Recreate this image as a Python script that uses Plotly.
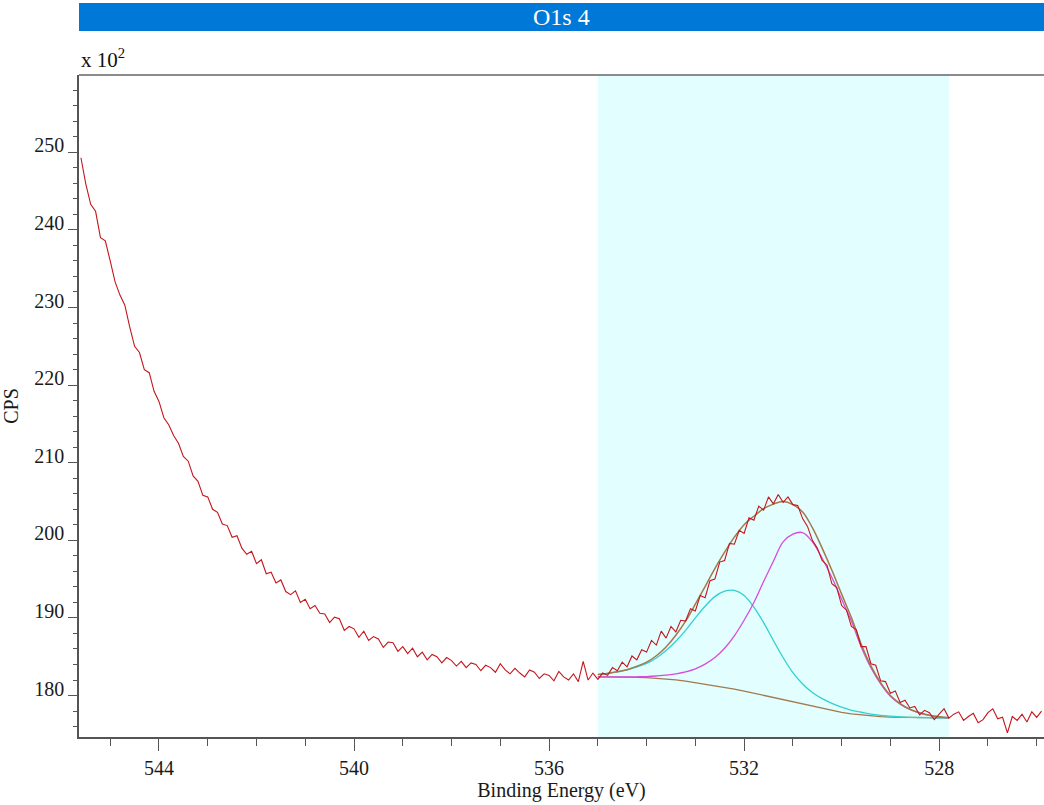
import numpy as np
import plotly.graph_objects as go

# ---------------- data (CPS in units of 10^2) ----------------
raw_start_ev = 545.6
raw_step_ev = 0.1
raw_cps = [
    249.3, 245.9, 243.3, 242.4, 239.0, 238.6, 236.0, 233.3, 231.6, 230.3,
    227.5, 225.0, 224.2, 222.0, 221.6, 219.2, 217.9, 215.8, 214.9, 213.5,
    212.5, 210.8, 210.2, 208.3, 207.6, 205.8, 205.6, 204.0, 203.6, 202.1,
    201.9, 200.4, 200.6, 199.0, 198.2, 198.6, 197.0, 197.5, 195.7, 195.9,
    194.5, 194.9, 193.4, 193.0, 193.5, 192.0, 192.4, 191.2, 191.6, 190.6,
    190.5, 189.4, 190.1, 189.9, 188.4, 188.9, 188.6, 187.5, 188.3, 187.1,
    187.6, 187.3, 186.2, 186.9, 186.8, 185.7, 186.3, 185.4, 186.1, 185.0,
    185.6, 184.6, 185.3, 185.0, 184.2, 184.9, 184.5, 183.8, 184.4, 183.6,
    184.2, 184.0, 183.2, 183.9, 183.6, 183.0, 184.1, 183.3, 182.8, 183.5,
    182.9, 182.4, 183.3, 183.0, 182.2, 182.8, 182.6, 181.9, 183.1, 182.4,
    182.0, 182.8, 181.8, 184.4, 182.0, 182.9, 182.1, 182.9, 182.6, 183.6,
    183.2, 184.3, 183.7, 185.1, 184.6, 185.9, 185.6, 187.1, 186.5, 188.3,
    187.4, 188.9, 188.2, 189.7, 189.6, 191.2, 190.9, 192.9, 192.6, 194.8,
    195.0, 197.2, 197.4, 199.6, 199.5, 201.3, 200.9, 202.9, 202.6, 204.4,
    203.9, 205.6, 204.7, 205.9, 204.9, 205.6, 204.6, 204.5, 202.8, 201.8,
    200.0, 199.0, 197.4, 196.8, 194.4, 193.9, 191.6, 191.0, 188.9, 188.5,
    186.3, 186.3, 184.1, 183.9, 181.9, 181.8, 180.3, 180.6, 179.1, 179.4,
    178.4, 178.6, 177.5, 178.1, 177.8, 176.9, 177.6, 178.3, 177.1, 177.6,
    177.9, 176.8, 177.3, 177.7, 176.5, 176.9, 177.8, 178.3, 177.0, 177.2,
    175.2, 177.3, 176.8, 177.6, 176.6, 177.9, 177.2, 178.0,
]
raw_be = np.round(raw_start_ev - raw_step_ev * np.arange(len(raw_cps)), 2)

fit_be = [535.0, 534.8, 534.6, 534.4, 534.2, 534.0, 533.8, 533.6, 533.4, 533.2,
          533.0, 532.8, 532.6, 532.4, 532.2, 532.0, 531.8, 531.6, 531.4, 531.2,
          531.0, 530.8, 530.6, 530.4, 530.2, 530.0, 529.8, 529.6, 529.4, 529.2,
          529.0, 528.8, 528.6, 528.4, 528.2, 528.0, 527.8]
background = [182.40, 182.40, 182.39, 182.37, 182.34, 182.30, 182.24, 182.15, 182.03, 181.87,
              181.68, 181.50, 181.30, 181.08, 180.84, 180.58, 180.30, 180.02, 179.73, 179.43,
              179.14, 178.85, 178.57, 178.30, 178.05, 177.83, 177.65, 177.50, 177.38, 177.29,
              177.23, 177.19, 177.16, 177.14, 177.13, 177.12, 177.12]
peak_cyan = [182.70, 182.85, 183.05, 183.30, 183.70, 184.15, 184.85, 185.80, 187.00, 188.40,
             190.00, 191.50, 192.75, 193.45, 193.55, 192.90, 191.40, 189.40, 187.10, 184.90,
             182.95, 181.50, 180.40, 179.60, 179.00, 178.50, 178.10, 177.85, 177.60, 177.45,
             177.35, 177.25, 177.20, 177.17, 177.15, 177.13, 177.12]
peak_magenta = [182.40, 182.40, 182.40, 182.40, 182.42, 182.45, 182.52, 182.62, 182.80, 183.05,
                183.45, 184.05, 184.90, 186.10, 187.70, 189.70, 192.00, 194.70, 197.30, 199.80,
                200.80, 201.00, 199.80, 197.70, 195.20, 192.40, 189.60, 186.30, 183.60, 181.50,
                179.90, 178.90, 178.20, 177.75, 177.45, 177.25, 177.15]
envelope = [182.70, 182.85, 183.06, 183.33, 183.78, 184.30, 185.13, 186.27, 187.77, 189.58,
            191.77, 194.05, 196.35, 198.47, 200.41, 202.02, 203.10, 204.08, 204.67, 205.00,
            204.61, 203.65, 201.63, 199.00, 196.15, 193.07, 190.05, 186.65, 183.82, 181.66,
            180.02, 178.96, 178.24, 177.78, 177.47, 177.26, 177.15]

region_be = [535.0, 527.8]
title_text = "O1s 4"
x_title = "Binding Energy (eV)"
y_title = "CPS"

# ---------------- styling ----------------
FONT = "Liberation Serif, Times New Roman, serif"
C_RAW = "#C4161C"
C_ENV = "#A07A4E"
C_CYAN = "#33CFD3"
C_MAG = "#D94CD9"

fig = go.Figure()
fig.add_trace(go.Scatter(x=fit_be, y=background, mode="lines",
                         line=dict(color=C_ENV, width=1.3), hoverinfo="skip"))
fig.add_trace(go.Scatter(x=fit_be, y=peak_cyan, mode="lines",
                         line=dict(color=C_CYAN, width=1.3, shape="spline"), hoverinfo="skip"))
fig.add_trace(go.Scatter(x=fit_be, y=peak_magenta, mode="lines",
                         line=dict(color=C_MAG, width=1.3, shape="spline"), hoverinfo="skip"))
fig.add_trace(go.Scatter(x=fit_be, y=envelope, mode="lines",
                         line=dict(color=C_ENV, width=1.5, shape="spline"), hoverinfo="skip"))
fig.add_trace(go.Scatter(x=raw_be, y=raw_cps, mode="lines",
                         line=dict(color=C_RAW, width=1.1), hoverinfo="skip"))

# analysis region
fig.add_shape(type="rect", xref="x", yref="paper", x0=region_be[0], x1=region_be[1],
              y0=0, y1=1, fillcolor="#E2FEFE", line=dict(width=0), layer="below")

# geometry (px) -> paper for the title bar
W, H = 1044, 805
ML, MR, MT, MB = 79, 0, 75, 68
ph = H - MT - MB
def py(px_y):
    return (H - MB - px_y) / ph

fig.add_shape(type="rect", xref="paper", yref="paper", x0=0, x1=1,
              y0=py(31), y1=py(3), fillcolor="#0078D7", line=dict(width=0))
fig.add_annotation(xref="paper", yref="paper", x=0.5, y=py(17), text=title_text,
                   showarrow=False, xanchor="center", yanchor="middle",
                   font=dict(family=FONT, size=24, color="white"))
fig.add_annotation(xref="paper", yref="paper", x=0, y=py(74), text="x 10<sup>2</sup>",
                   showarrow=False, xanchor="left", yanchor="bottom",
                   font=dict(family=FONT, size=21, color="#111"))

axis_common = dict(showgrid=False, zeroline=False, linecolor="#555", linewidth=1.5,
                   ticks="outside", tickcolor="#555", tickwidth=1.2,
                   tickfont=dict(family=FONT, size=20, color="#1a1a1a"),
                   title_font=dict(family=FONT, size=20, color="#1a1a1a"))

fig.update_xaxes(range=[545.64, 525.85], tickmode="linear", tick0=528, dtick=4,
                 ticklen=12, showline=True, mirror=False,
                 minor=dict(tick0=528, dtick=1, ticklen=7, tickcolor="#555", ticks="outside"),
                 title_text=x_title, title_standoff=4, **axis_common)
fig.update_yaxes(range=[174.66, 259.96], tickmode="linear", tick0=180, dtick=10,
                 ticklen=9, showline=True, ticklabelshift=-7,
                 minor=dict(tick0=180, dtick=2, ticklen=4, tickcolor="#555", ticks="outside"),
                 title_text=y_title, title_standoff=10, **axis_common)

# top border
fig.add_shape(type="line", xref="paper", yref="paper", x0=0, x1=1, y0=1, y1=1,
              line=dict(color="#666", width=1.5))

fig.update_layout(width=W, height=H, margin=dict(l=ML, r=MR, t=MT, b=MB),
                  paper_bgcolor="white", plot_bgcolor="white", showlegend=False)

fig.write_html("out.html", config={"displayModeBar": False},
               post_script="document.body.style.margin='0px';document.body.style.overflow='hidden';")
